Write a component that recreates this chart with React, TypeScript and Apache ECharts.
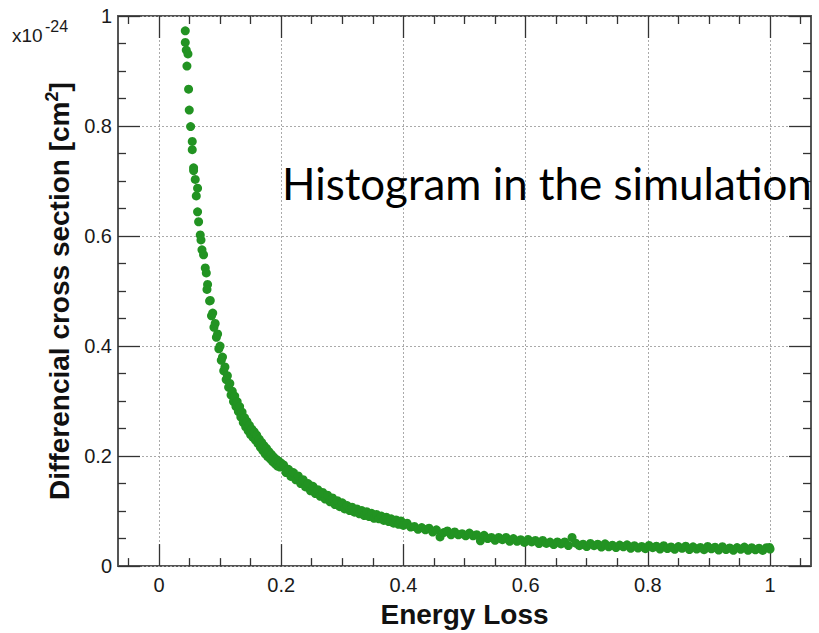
import React, { useEffect, useRef } from "react";
import * as echarts from "echarts";

// ---- data ----
// sparse top part of the curve [energy loss, cross section (x1e-24 cm^2)]
const steepPoints: number[][] = [
  [0.0431, 0.973], [0.0431, 0.952], [0.0447, 0.938], [0.0475, 0.931], [0.0458, 0.909],
  [0.0485, 0.867], [0.0496, 0.829], [0.0518, 0.799], [0.0545, 0.772], [0.0545, 0.757],
  [0.0567, 0.724], [0.0567, 0.719], [0.0594, 0.703], [0.0632, 0.687], [0.0611, 0.673],
  [0.0632, 0.644], [0.0649, 0.626], [0.0676, 0.602], [0.0688, 0.593], [0.0704, 0.575],
  [0.073, 0.566], [0.0758, 0.542], [0.0775, 0.533], [0.0796, 0.512], [0.0786, 0.503],
  [0.0829, 0.482],
];
// knee of the curve
const kneePoints: number[][] = [
  [0.084, 0.483], [0.086, 0.455], [0.088, 0.46], [0.09, 0.434], [0.092, 0.441],
  [0.094, 0.416], [0.096, 0.422], [0.098, 0.395], [0.1, 0.4], [0.102, 0.374],
  [0.104, 0.38], [0.106, 0.355], [0.108, 0.362], [0.11, 0.339], [0.112, 0.346],
  [0.114, 0.325], [0.116, 0.332], [0.118, 0.311], [0.12, 0.318], [0.122, 0.299],
  [0.124, 0.309], [0.126, 0.29], [0.128, 0.299], [0.13, 0.281], [0.132, 0.29],
  [0.134, 0.271], [0.136, 0.28], [0.138, 0.261], [0.14, 0.27], [0.142, 0.253],
  [0.144, 0.263], [0.146, 0.246], [0.148, 0.256], [0.15, 0.239], [0.152, 0.249],
  [0.154, 0.234], [0.156, 0.244], [0.158, 0.229], [0.16, 0.238], [0.162, 0.223],
  [0.164, 0.231], [0.166, 0.216], [0.168, 0.225], [0.17, 0.21], [0.172, 0.219],
  [0.174, 0.204], [0.176, 0.214], [0.178, 0.199], [0.18, 0.208], [0.182, 0.195],
  [0.184, 0.203], [0.186, 0.19], [0.188, 0.198], [0.19, 0.186], [0.192, 0.194],
  [0.194, 0.182], [0.196, 0.191], [0.198, 0.18], [0.2, 0.187],
  [0.204, 0.184], [0.208, 0.17], [0.212, 0.176], [0.216, 0.163], [0.22, 0.17],
  [0.224, 0.157], [0.228, 0.164], [0.232, 0.15], [0.236, 0.157], [0.24, 0.144],
  [0.244, 0.15], [0.248, 0.137], [0.252, 0.145], [0.256, 0.132], [0.26, 0.139],
  [0.264, 0.127], [0.268, 0.134], [0.272, 0.122], [0.276, 0.129], [0.28, 0.117],
  [0.284, 0.124], [0.288, 0.112], [0.292, 0.119], [0.296, 0.108], [0.3, 0.115],
  [0.304, 0.104], [0.308, 0.11], [0.312, 0.101], [0.316, 0.107], [0.32, 0.098],
  [0.324, 0.104], [0.328, 0.095], [0.332, 0.101], [0.336, 0.092], [0.34, 0.099],
  [0.344, 0.09], [0.348, 0.096], [0.352, 0.087], [0.356, 0.094], [0.36, 0.086],
  [0.364, 0.091], [0.368, 0.083], [0.372, 0.089], [0.376, 0.081], [0.38, 0.086],
  [0.384, 0.078], [0.388, 0.084], [0.392, 0.076], [0.396, 0.082], [0.4, 0.074],
];
// flat tail
const tailPoints: number[][] = [
  [0.406, 0.078], [0.412, 0.071], [0.418, 0.072], [0.424, 0.067], [0.43, 0.07],
  [0.436, 0.066], [0.442, 0.069], [0.448, 0.062], [0.454, 0.066], [0.46, 0.053],
  [0.466, 0.061], [0.472, 0.064], [0.478, 0.057], [0.484, 0.062], [0.49, 0.057],
  [0.496, 0.059], [0.502, 0.055], [0.508, 0.06], [0.514, 0.055], [0.52, 0.057],
  [0.526, 0.046], [0.532, 0.056], [0.538, 0.05], [0.544, 0.052], [0.55, 0.047],
  [0.556, 0.052], [0.562, 0.048], [0.568, 0.052], [0.574, 0.045], [0.58, 0.05],
  [0.586, 0.045], [0.592, 0.048], [0.598, 0.043], [0.604, 0.0485], [0.61, 0.044],
  [0.616, 0.0465], [0.622, 0.041], [0.628, 0.0467], [0.634, 0.0412], [0.64, 0.0437],
  [0.646, 0.0392], [0.652, 0.0438], [0.658, 0.0403], [0.664, 0.0438], [0.67, 0.0374],
  [0.676, 0.052], [0.682, 0.0416], [0.688, 0.0372], [0.694, 0.0398], [0.7, 0.0355],
  [0.706, 0.0413], [0.712, 0.0371], [0.718, 0.0399], [0.724, 0.0347], [0.73, 0.0405],
  [0.736, 0.0352], [0.742, 0.0379], [0.748, 0.0336], [0.754, 0.0383], [0.76, 0.035],
  [0.766, 0.0387], [0.772, 0.0324], [0.778, 0.0371], [0.784, 0.0329], [0.79, 0.0357],
  [0.796, 0.0316], [0.802, 0.0375], [0.808, 0.0334], [0.814, 0.0362], [0.82, 0.0311],
  [0.826, 0.037], [0.832, 0.0319], [0.838, 0.0347], [0.844, 0.0306], [0.85, 0.0355],
  [0.856, 0.0324], [0.862, 0.0363], [0.868, 0.0302], [0.874, 0.0351], [0.88, 0.031],
  [0.886, 0.0339], [0.892, 0.0298], [0.898, 0.0357], [0.904, 0.0315], [0.91, 0.0344],
  [0.916, 0.0293], [0.922, 0.0352], [0.928, 0.03], [0.934, 0.0329], [0.94, 0.0288],
  [0.946, 0.0337], [0.952, 0.0306], [0.958, 0.0346], [0.964, 0.0286], [0.97, 0.0335],
  [0.976, 0.0295], [0.982, 0.0325], [0.988, 0.0285], [0.994, 0.0335], [0.999, 0.034],
  [1.0, 0.031],
];

const xMajorTicks = [0, 0.2, 0.4, 0.6, 0.8, 1];
const xMinorTicks = [-0.05, 0.05, 0.1, 0.15, 0.25, 0.3, 0.35, 0.45, 0.5, 0.55, 0.65, 0.7, 0.75, 0.85, 0.9, 0.95, 1.05];
const yMajorTicks = [0, 0.2, 0.4, 0.6, 0.8, 1];
const yMinorTicks = [0.05, 0.1, 0.15, 0.25, 0.3, 0.35, 0.45, 0.5, 0.55, 0.65, 0.7, 0.75, 0.85, 0.9, 0.95];

const X_MIN = -0.067;
const X_MAX = 1.067;

const xTitle = "Energy Loss";
const yTitleMain = "Differencial cross section [cm";
const annotation = "Histogram in the simulation";

const fmt = (v: number) => String(Number(v.toFixed(3)));

export default function App() {
  const ref = useRef<HTMLDivElement>(null);

  useEffect(() => {
    if (!ref.current) return;
    const chart = echarts.init(ref.current, null, { renderer: "svg" });
    const tickColor = "#333";
    const labelFont = { fontFamily: "Liberation Sans, Arial, sans-serif", fontSize: 20, color: "#1a1a1a" };

    const mkX = (pos: "top" | "bottom", major: boolean, labels: boolean, split: boolean) => ({
      type: "value",
      min: X_MIN,
      max: X_MAX,
      position: pos,
      offset: 0,
      axisLine: { show: false, onZero: false },
      axisTick: {
        show: true,
        inside: true,
        length: major ? 22 : 8,
        customValues: major ? xMajorTicks : xMinorTicks,
        lineStyle: { color: tickColor, width: 1.3 },
      },
      axisLabel: labels
        ? { show: true, customValues: xMajorTicks, margin: 9, formatter: (v: number) => fmt(v), ...labelFont }
        : { show: false },
      splitLine: split ? { show: true, lineStyle: { color: "#aaa", type: [2, 2], width: 1 } } : { show: false },
      ...(labels
        ? {
            name: xTitle,
            nameLocation: "middle",
            nameGap: 24,
            nameTextStyle: { fontFamily: "Liberation Sans, Arial, sans-serif", fontWeight: "bold", fontSize: 28, color: "#111", verticalAlign: "top" },
          }
        : {}),
    });

    const mkY = (pos: "left" | "right", major: boolean, labels: boolean, split: boolean) => ({
      type: "value",
      min: 0,
      max: 1,
      position: pos,
      offset: 0,
      axisLine: { show: false, onZero: false },
      axisTick: {
        show: true,
        inside: true,
        length: major ? 22 : 8,
        customValues: major ? yMajorTicks : yMinorTicks,
        lineStyle: { color: tickColor, width: 1.3 },
      },
      axisLabel: labels
        ? { show: true, customValues: yMajorTicks, margin: 6, formatter: (v: number) => fmt(v), ...labelFont }
        : { show: false },
      splitLine: split ? { show: true, lineStyle: { color: "#aaa", type: [2, 2], width: 1 } } : { show: false },
      ...(labels
        ? {
            name: `{b|${yTitleMain}}{s|2}{b|]}`,
            nameLocation: "middle",
            nameRotate: 90,
            nameGap: 36,
            nameTextStyle: {
              rich: {
                b: { fontFamily: "Liberation Sans, Arial, sans-serif", fontWeight: "bold", fontSize: 28, color: "#111", lineHeight: 32 },
                s: { fontFamily: "Liberation Sans, Arial, sans-serif", fontWeight: "bold", fontSize: 18, color: "#111", verticalAlign: "top", lineHeight: 32, padding: [0, 0, 12, 0] },
              },
            },
          }
        : {}),
    });

    const dotColor = "#229322";
    const dotSeries = (data: number[][]) => ({
      type: "scatter",
      xAxisIndex: 0,
      yAxisIndex: 0,
      data,
      symbol: "circle",
      symbolSize: 9,
      itemStyle: { color: dotColor, opacity: 1 },
      emphasis: { disabled: true },
    });

    chart.setOption({
      animation: false,
      backgroundColor: "#ffffff",
      grid: {
        left: 118,
        right: 8,
        top: 16,
        bottom: 59,
        show: true,
        borderColor: "#555",
        borderWidth: 2,
        backgroundColor: "transparent",
      },
      xAxis: [
        mkX("bottom", true, true, true),
        mkX("bottom", false, false, false),
        mkX("top", true, false, false),
        mkX("top", false, false, false),
      ],
      yAxis: [
        mkY("left", true, true, true),
        mkY("left", false, false, false),
        mkY("right", true, false, false),
        mkY("right", false, false, false),
      ],
      series: [dotSeries(steepPoints), dotSeries(kneePoints), dotSeries(tailPoints)],
      graphic: [
        {
          type: "text",
          left: 12,
          top: 26,
          z: 100,
          style: { text: "x10", fontFamily: "Liberation Sans, Arial, sans-serif", fontSize: 19, fill: "#1a1a1a" },
        },
        {
          type: "text",
          left: 45,
          top: 18,
          z: 100,
          style: { text: "-24", fontFamily: "Liberation Sans, Arial, sans-serif", fontSize: 16, fill: "#1a1a1a" },
        },
        {
          type: "text",
          x: 282,
          y: 182,
          scaleX: 0.975,
          z: 100,
          style: {
            text: annotation,
            fontFamily: "Lato, 'Open Sans', sans-serif",
            fontSize: 45,
            fill: "#000",
            verticalAlign: "middle",
            align: "left",
          },
        },
      ],
    });
    return () => chart.dispose();
  }, []);

  return <div ref={ref} style={{ position: "absolute", left: 0, top: 0, width: 819, height: 633 }} />;
}
